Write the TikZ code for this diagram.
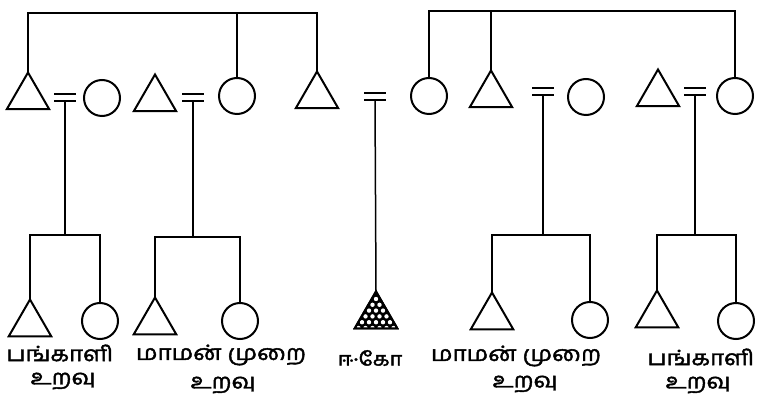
\documentclass[tikz,border=0pt]{standalone}
\usepackage{fontspec}
\newfontfamily\tamil[Script=Tamil,FakeStretch=1.15,FakeBold=2]{Hind Madurai}
\usetikzlibrary{shapes.geometric,calc}
\tikzset{
  ln/.style={line width=2pt},
  tri/.style={regular polygon, regular polygon sides=3, draw, line width=2pt,
    minimum size=49pt, inner sep=0pt, outer sep=0pt},
  circ/.style={circle, draw, line width=2pt, minimum size=36pt, inner sep=0pt, outer sep=0pt},
  lbl/.style={font=\tamil\fontsize{21}{21}\selectfont, inner sep=0pt},
  egolbl/.style={font=\tamil\fontsize{19}{19}\selectfont, inner sep=0pt},
}
\newcommand\eqmark[3]{%
  \coordinate (#1) at (#2,#3);
  \draw[ln] ([shift={(-11pt,3.5pt)}]#1) -- ([shift={(11pt,3.5pt)}]#1)
            ([shift={(-11pt,-3.5pt)}]#1) -- ([shift={(11pt,-3.5pt)}]#1);}
\begin{document}
\begin{tikzpicture}[x=1pt,y=-1pt]
\useasboundingbox (0,0) rectangle (770,419);
% first generation
\node[tri]  (fT1) at (28,97) {};
\node[circ] (fC1) at (102,98) {};
\node[tri]  (fT2) at (155,99) {};
\node[circ] (fC2) at (237,96) {};
\node[tri]  (fT3) at (317,96) {};
\node[circ] (mC3) at (429,96) {};
\node[tri]  (mT4) at (491,95) {};
\node[circ] (mC4) at (586,97) {};
\node[tri]  (mT5) at (658,94) {};
\node[circ] (mC5) at (735,96) {};
% sibling lines at top
\coordinate (top1) at (200,13);
\coordinate (top2) at (600,11);
\draw[ln] (fT1.north) |- (top1) -| (fT3.north);
\draw[ln] (fC2.north) -- (fC2.north |- top1);
\draw[ln] (mC3.north) |- (top2) -| (mC5.north);
\draw[ln] (mT4.north) -- (mT4.north |- top2);
% marriages
\eqmark{e1}{65}{98}
\eqmark{e2}{193}{97.5}
\eqmark{e0}{375}{96.5}
\eqmark{e3}{543}{92}
\eqmark{e4}{695}{91.5}
% second generation
\node[tri]  (k1) at (30,324) {};
\node[circ] (k2) at (100,321) {};
\node[tri]  (k3) at (155,322) {};
\node[circ] (k4) at (240,321) {};
\node[tri, fill=black] (ego) at (376,316) {};
\node[tri]  (k5) at (492,317) {};
\node[circ] (k6) at (590,320) {};
\node[tri]  (k7) at (657,315) {};
\node[circ] (k8) at (736,321) {};
% ego hatching
\begin{scope}
  \clip (ego.corner 1) -- (ego.corner 2) -- (ego.corner 3) -- cycle;
  \foreach \r in {0,...,6}{
    \foreach \c in {-4,...,4}{
      \fill[white] ({376+\c*7+mod(\r,2)*3.5},{299+\r*5.8}) circle (2.2pt);
    }
  }
\end{scope}
\draw[ln] (ego.corner 1) -- (ego.corner 2) -- (ego.corner 3) -- cycle;
% descent lines
\coordinate (s1) at (65,235);
\coordinate (s2) at (193,237);
\coordinate (s3) at (543,235);
\coordinate (s4) at (695,235);
\draw[ln] ([yshift=-3.5pt]e1) -- (s1);
\draw[ln] ([yshift=-3.5pt]e2) -- (s2);
\draw[ln] ([yshift=-3.5pt]e3) -- (s3);
\draw[ln] ([yshift=-3.5pt]e4) -- (s4);
\draw[line width=1.5pt] ([yshift=-3.5pt]e0) -- (ego.north);
\draw[ln] (k1.north) |- (s1) -| (k2.north);
\draw[ln] (k3.north) |- (s2) -| (k4.north);
\draw[ln] (k5.north) |- (s3) -| (k6.north);
\draw[ln] (k7.north) |- (s4) -| (k8.north);
% labels
\node[lbl] (L1a) at (60,353) {பங்காளி};
\node[lbl] (L1b) at (63,381) {உறவு};
\node[lbl] (L2a) at (221,355) {மாமன் முறை};
\node[lbl] (L2b) at (223,385) {உறவு};
\node[egolbl] (Le) at (370,358) {ஈ·கோ};
\node[lbl] (L3a) at (516,356) {மாமன் முறை};
\node[lbl] (L3b) at (525,384) {உறவு};
\node[lbl] (L4a) at (701,357) {பங்காளி};
\node[lbl] (L4b) at (698,385) {உறவு};
\end{tikzpicture}
\end{document}
